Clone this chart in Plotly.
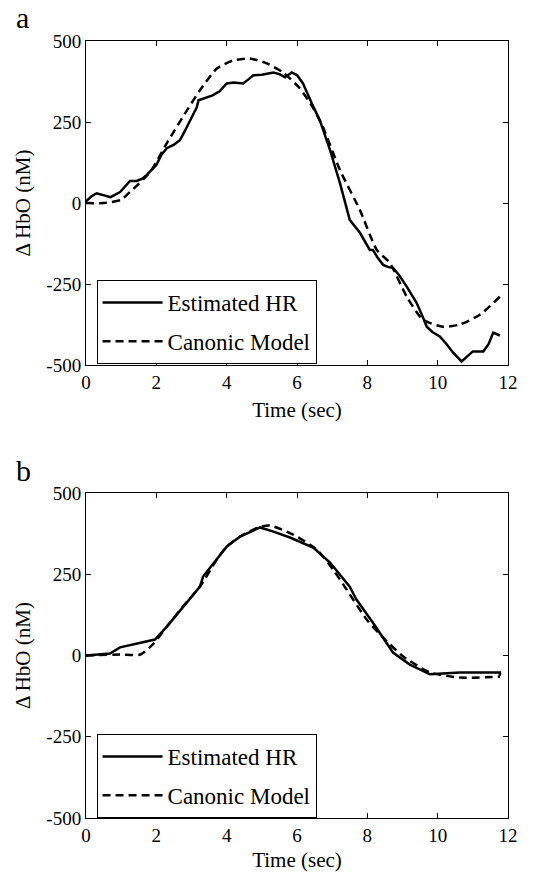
import plotly.graph_objects as go

# ---- Data ----
# Panel a: Estimated HR
a_est_t = [0.0, 0.15, 0.3, 0.5, 0.7, 0.97, 1.1, 1.25, 1.44, 1.6, 1.72, 2.0, 2.15, 2.3, 2.5, 2.67, 2.8, 2.96, 3.15, 3.2,
           3.4, 3.6, 3.8, 4.0, 4.2, 4.47, 4.6, 4.76, 5.0, 5.33, 5.5, 5.66, 5.85, 6.0, 6.17, 6.37, 6.42, 6.65, 6.94,
           7.22, 7.5, 7.79, 8.07, 8.16, 8.3, 8.45, 8.6, 8.73, 8.9, 9.12, 9.4, 9.55, 9.69, 9.85, 10.06, 10.25, 10.44,
           10.68, 10.8, 11.0, 11.3, 11.45, 11.58, 11.77]
a_est_v = [5, 20, 30, 24, 18, 34, 50, 68, 68, 75, 86, 117, 150, 169, 180, 194, 220, 255, 295, 317,
           325, 332, 345, 369, 372, 369, 380, 394, 396, 403, 398, 388, 403, 395, 369, 317, 308, 255, 163,
           62, -52, -92, -145, -145, -170, -191, -198, -200, -222, -258, -308, -345, -382, -398, -412, -435, -462,
           -489, -478, -458, -458, -435, -400, -409]
# Panel a: Canonic model
a_can_t = [0.0, 0.5, 1.0, 1.25, 1.82, 2.3, 2.87, 3.24, 3.72, 4.18, 4.66, 5.14, 5.6, 6.08, 6.45,
           6.74, 7.22, 7.79, 8.27, 8.64, 9.12, 9.58, 10.15, 10.63, 11.2, 11.77]
a_can_v = [0, 0, 10, 34, 95, 185, 286, 348, 415, 440, 446, 431, 403, 354, 295,
           234, 102, -22, -145, -185, -289, -360, -382, -375, -345, -289]

# Panel b: Estimated HR
b_est_t = [0.0, 0.68, 0.97, 1.54, 1.96, 2.3, 2.76, 3.24, 3.33, 3.72, 4.0, 4.38, 4.95, 5.33, 5.8,
           6.46, 6.94, 7.5, 7.69, 8.16, 8.73, 9.21, 9.78, 10.63, 11.77, 11.77]
b_est_v = [0, 6, 25, 40, 49, 89, 151, 212, 243, 295, 335, 366, 394, 381, 363,
           332, 286, 212, 172, 101, 9, -28, -58, -52, -52, -62]
# Panel b: Canonic model
b_can_t = [0.0, 0.97, 1.54, 1.9, 2.3, 2.76, 3.24, 3.72, 4.0, 4.38, 4.95, 5.23, 5.89, 6.56, 7.03,
           7.41, 7.98, 8.45, 9.02, 9.78, 10.63, 11.77]
b_can_v = [0, 3, 3, 34, 89, 151, 212, 295, 335, 366, 396, 400, 372, 326, 264,
           203, 111, 55, -3, -52, -68, -65]

x_ticks = [0, 2, 4, 6, 8, 10, 12]
y_ticks = [-500, -250, 0, 250, 500]
y_ticktext = ["-500", "-250", "0", "250", "500"]
series_names = ["Estimated HR", "Canonic Model"]
panel_labels = ["a", "b"]

SERIF = "Liberation Serif, Times New Roman, serif"

fig = go.Figure()

for i, (et, ev, ct, cv) in enumerate([(a_est_t, a_est_v, a_can_t, a_can_v),
                                      (b_est_t, b_est_v, b_can_t, b_can_v)]):
    xa = "x" if i == 0 else "x2"
    ya = "y" if i == 0 else "y2"
    lg = "legend" if i == 0 else "legend2"
    fig.add_trace(go.Scatter(x=et, y=ev, mode="lines", name=series_names[0],
                             line=dict(color="black", width=2.5),
                             legendgroup=f"e{i}",
                             xaxis=xa, yaxis=ya, legend=lg))
    fig.add_trace(go.Scatter(x=ct, y=cv, mode="lines", name=series_names[1],
                             line=dict(color="black", width=2.5, dash="8px,5px", shape="spline", smoothing=0.6),
                             legendgroup=f"c{i}",
                             xaxis=xa, yaxis=ya, legend=lg))

top_dom = [(818 - 365) / 777, 1.0]
bot_dom = [0.0, (818 - 493) / 777]

axis_common = dict(
    showline=True, linecolor="black", linewidth=1, mirror="ticks",
    ticks="inside", ticklen=5, tickcolor="black", showgrid=False, zeroline=False,
    automargin=False,
    tickfont=dict(family=SERIF, size=19, color="black"),
)

legend_common = dict(xanchor="left", yanchor="top",
                     bordercolor="black", borderwidth=1, bgcolor="white",
                     itemwidth=60, tracegroupgap=6,
                     font=dict(family=SERIF, size=23, color="black"))

xtitle = dict(text="Time (sec)", font=dict(size=21), standoff=10)
ytitle = dict(text="Δ HbO (nM)", font=dict(size=21), standoff=10)

fig.update_layout(
    width=551, height=872,
    margin=dict(l=86, r=43, t=41, b=54),
    paper_bgcolor="white", plot_bgcolor="white",
    font=dict(family=SERIF, color="black"),
    xaxis=dict(domain=[0, 1], anchor="y", range=[0, 12], tickvals=x_ticks,
               title=xtitle, **axis_common),
    yaxis=dict(domain=top_dom, anchor="x", range=[-500, 500], tickvals=y_ticks, ticktext=y_ticktext,
               title=ytitle, **axis_common),
    xaxis2=dict(domain=[0, 1], anchor="y2", range=[0, 12], tickvals=x_ticks,
                title=xtitle, **axis_common),
    yaxis2=dict(domain=bot_dom, anchor="x2", range=[-500, 500], tickvals=y_ticks, ticktext=y_ticktext,
                title=ytitle, **axis_common),
    legend=dict(x=0.025, y=(818 - 280) / 777, **legend_common),
    legend2=dict(x=0.025, y=(818 - 734) / 777, **legend_common),
    annotations=[
        dict(text=panel_labels[0], xref="paper", yref="paper", x=-0.17, y=1.0 + 23 / 777,
             xanchor="left", yanchor="middle", showarrow=False,
             font=dict(family=SERIF, size=30, color="black")),
        dict(text=panel_labels[1], xref="paper", yref="paper", x=-0.17, y=(818 - 470) / 777,
             xanchor="left", yanchor="middle", showarrow=False,
             font=dict(family=SERIF, size=30, color="black")),
    ],
)

fig.write_html("out.html")
